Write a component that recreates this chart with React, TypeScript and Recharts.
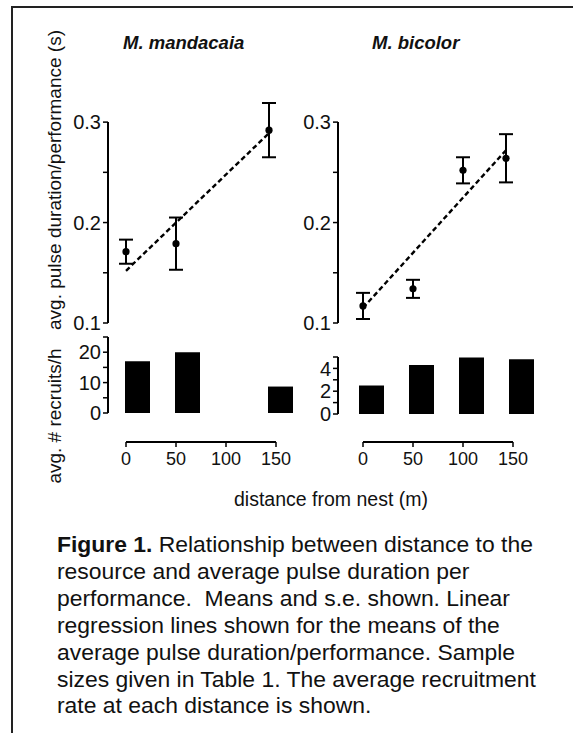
import React from "react";
import {
  Bar,
  ComposedChart,
  ErrorBar,
  Line,
  ReferenceLine,
  Scatter,
  XAxis,
  YAxis,
} from "recharts";

// M. mandacaia
const mandDistance = [0, 50, 143];
const mandPulse = [0.171, 0.179, 0.292];
const mandSe = [0.012, 0.026, 0.027];
const mandRecruitDistance = [0, 50, 143];
const mandRecruits = [17, 20, 8.7];
const mandFitX = [0, 143];
const mandFitY = [0.152, 0.289];

// M. bicolor
const bicDistance = [0, 50, 100, 143];
const bicPulse = [0.117, 0.134, 0.252, 0.264];
const bicSe = [0.013, 0.009, 0.013, 0.024];
const bicRecruitDistance = [0, 50, 100, 150];
const bicRecruits = [2.5, 4.3, 4.95, 4.8];
const bicFitX = [0, 143];
const bicFitY = [0.115, 0.272];

// axes
const pulseTicks = [0.1, 0.15, 0.2, 0.25, 0.3];
const pulseLabels = [0.1, 0.2, 0.3];
const pulseAxisRange = [0.1, 0.3];
const mandRecruitTicks = [0, 5, 10, 15, 20, 25];
const mandRecruitLabels = [0, 10, 20];
const bicRecruitTicks = [0, 1, 2, 3, 4, 5];
const bicRecruitLabels = [0, 2, 4];
const distanceTicks = [0, 50, 100, 150];

const INK = "#000";
const FONT = '"Liberation Sans", Arial, Helvetica, sans-serif';
const tickStyle = { fontSize: 20, fill: "#111", fontFamily: FONT };

const only = (labels: number[]) => (v: number) => (labels.includes(v) ? String(v) : "");

const Dot = (p: any) => <circle cx={p.cx} cy={p.cy} r={3.6} fill={INK} />;

interface PulseProps {
  xs: number[];
  ys: number[];
  se: number[];
  fitX: number[];
  fitY: number[];
  xDomain: [number, number];
  left: number;
}

// upper panel: means ± s.e. with the dashed regression line
function PulsePanel({ xs, ys, se, fitX, fitY, xDomain, left }: PulseProps) {
  const points = xs.map((x, i) => ({ x, y: ys[i], se: se[i] }));
  const fit = fitX.map((x, i) => ({ x, y: fitY[i] }));
  return (
    <div style={{ position: "absolute", left, top: 97 }}>
      <ComposedChart
        width={48 + (xDomain[1] - xDomain[0])}
        height={240}
        margin={{ top: 0, right: 0, bottom: 14, left: 0 }}
      >
        <XAxis type="number" dataKey="x" domain={xDomain} hide height={0} />
        <YAxis
          type="number"
          domain={[0.1, 0.325]}
          ticks={pulseTicks}
          tickFormatter={only(pulseLabels)}
          interval={0}
          width={48}
          axisLine={false}
          tickLine={{ stroke: INK, strokeWidth: 1.5 }}
          tickSize={5}
          tickMargin={2}
          tick={tickStyle}
        />
        {/* axis line stops at 0.3 while the error bars reach above it */}
        <ReferenceLine
          segment={[
            { x: xDomain[0], y: pulseAxisRange[0] },
            { x: xDomain[0], y: pulseAxisRange[1] },
          ]}
          stroke={INK}
          strokeWidth={2}
          ifOverflow="visible"
        />
        <Line
          data={fit}
          dataKey="y"
          type="linear"
          stroke={INK}
          strokeWidth={2.4}
          strokeDasharray="5 3"
          dot={false}
          isAnimationActive={false}
        />
        <Scatter data={points} dataKey="y" shape={Dot} isAnimationActive={false}>
          <ErrorBar dataKey="se" direction="y" width={7} stroke={INK} strokeWidth={2} />
        </Scatter>
      </ComposedChart>
    </div>
  );
}

interface RecruitProps {
  xs: number[];
  values: number[];
  yMax: number;
  ticks: number[];
  labels: number[];
  xDomain: [number, number];
  left: number;
  top: number;
  height: number;
}

// lower panel: recruitment rate bars
function RecruitPanel({ xs, values, yMax, ticks, labels, xDomain, left, top, height }: RecruitProps) {
  const rows = xs.map((x, i) => ({ x, v: values[i] }));
  return (
    <div style={{ position: "absolute", left, top: top - 12 }}>
      <ComposedChart
        data={rows}
        width={48 + (xDomain[1] - xDomain[0])}
        height={height + 24}
        margin={{ top: 12, right: 0, bottom: 12, left: 0 }}
      >
        <XAxis type="number" dataKey="x" domain={xDomain} hide height={0} />
        <YAxis
          type="number"
          domain={[0, yMax]}
          ticks={ticks}
          tickFormatter={only(labels)}
          interval={0}
          width={48}
          axisLine={{ stroke: INK, strokeWidth: 2 }}
          tickLine={{ stroke: INK, strokeWidth: 1.5 }}
          tickSize={5}
          tickMargin={2}
          tick={tickStyle}
        />
        <Bar dataKey="v" fill={INK} barSize={25} isAnimationActive={false} />
      </ComposedChart>
    </div>
  );
}

// separate distance axis below the bars
function DistanceAxis({ xs, left }: { xs: number[]; left: number }) {
  const rows = xs.map((x) => ({ x, v: 0 }));
  return (
    <div style={{ position: "absolute", left: left - 30, top: 440 }}>
      <ComposedChart
        data={rows}
        width={210}
        height={40}
        margin={{ top: 0, right: 30, bottom: 0, left: 30 }}
      >
        <XAxis
          type="number"
          dataKey="x"
          domain={[0, 150]}
          ticks={distanceTicks}
          interval={0}
          height={38}
          axisLine={{ stroke: INK, strokeWidth: 2 }}
          tickLine={{ stroke: INK, strokeWidth: 1.5 }}
          tickSize={5}
          tickMargin={5}
          tick={{ ...tickStyle, fontSize: 18 }}
        />
        <YAxis hide domain={[0, 1]} />
        <Line dataKey="v" stroke="none" dot={false} isAnimationActive={false} />
      </ComposedChart>
    </div>
  );
}

const rotated = (cx: number, cy: number): React.CSSProperties => ({
  position: "absolute",
  left: cx,
  top: cy,
  transform: "translate(-50%, -50%) rotate(-90deg)",
  whiteSpace: "nowrap",
  fontSize: 19,
});

const titleStyle: React.CSSProperties = {
  position: "absolute",
  top: 32,
  fontSize: 18.5,
  fontWeight: "bold",
  fontStyle: "italic",
};

export default function App() {
  return (
    <div
      style={{
        position: "absolute",
        left: 0,
        top: 0,
        width: 573,
        height: 733,
        overflow: "hidden",
        background: "#fff",
        fontFamily: FONT,
        color: "#111",
      }}
    >
      <div
        style={{
          position: "absolute",
          left: 11,
          top: 6,
          width: 700,
          height: 800,
          borderTop: "2px solid #222",
          borderLeft: "2px solid #222",
        }}
      />

      <div style={{ ...titleStyle, left: 123 }}>M. mandacaia</div>
      <div style={{ ...titleStyle, left: 372 }}>M. bicolor</div>

      <div style={rotated(55, 180)}>avg. pulse duration/performance (s)</div>
      <div style={rotated(55, 416)}>avg. # recruits/h</div>

      <PulsePanel
        xs={mandDistance}
        ys={mandPulse}
        se={mandSe}
        fitX={mandFitX}
        fitY={mandFitY}
        xDomain={[-18, 162]}
        left={60}
      />
      <PulsePanel
        xs={bicDistance}
        ys={bicPulse}
        se={bicSe}
        fitX={bicFitX}
        fitY={bicFitY}
        xDomain={[-25, 175]}
        left={290}
      />

      <RecruitPanel
        xs={mandRecruitDistance}
        values={mandRecruits}
        yMax={25}
        ticks={mandRecruitTicks}
        labels={mandRecruitLabels}
        xDomain={[-29, 171]}
        left={60}
        top={337}
        height={76}
      />
      <RecruitPanel
        xs={bicRecruitDistance}
        values={bicRecruits}
        yMax={5}
        ticks={bicRecruitTicks}
        labels={bicRecruitLabels}
        xDomain={[-33, 167]}
        left={290}
        top={357}
        height={57}
      />

      <DistanceAxis xs={mandDistance} left={126} />
      <DistanceAxis xs={bicDistance} left={363} />

      <div style={{ position: "absolute", left: 0, width: 662, top: 488, textAlign: "center", fontSize: 19.5 }}>
        distance from nest (m)
      </div>

      <div style={{ position: "absolute", left: 57, top: 531, fontSize: 22.9, lineHeight: "26.9px", whiteSpace: "nowrap" }}>
        <b>Figure 1.</b> Relationship between distance to the
        <br />
        resource and average pulse duration per
        <br />
        performance.&nbsp; Means and s.e. shown. Linear
        <br />
        regression lines shown for the means of the
        <br />
        average pulse duration/performance. Sample
        <br />
        sizes given in Table 1. The average recruitment
        <br />
        rate at each distance is shown.
      </div>
    </div>
  );
}
